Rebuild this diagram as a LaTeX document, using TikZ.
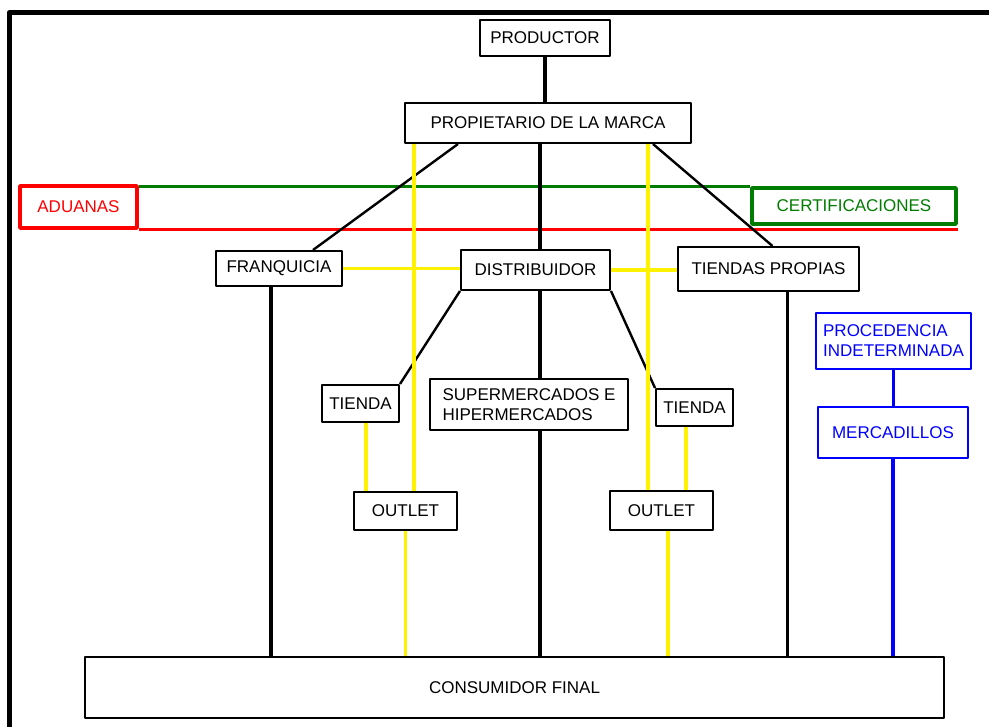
\documentclass[tikz,border=0pt]{standalone}
\usepackage{fontspec}
\setmainfont{Liberation Sans}
\definecolor{verde}{RGB}{0,125,0}
\begin{document}
\begin{tikzpicture}[x=1pt,y=-1pt,line join=round,font=\fontsize{17}{20}\selectfont,
	caja/.style={draw,line width=2pt,fill=white,inner sep=0pt,align=left},
	cajaazul/.style={caja,draw=blue,text=blue,line width=2.6pt},
	negra/.style={line width=3.4pt},
	diag/.style={line width=2.4pt},
	amarilla/.style={yellow,line width=3.4pt},
	azul/.style={blue,line width=3.4pt}]
	\useasboundingbox (0,0) rectangle (989,727);
	\def\xc{540}
	\draw[line width=5pt] (9,727)|-(989,13);
	\node[caja,draw=red,text=red,line width=3.4pt,minimum width=117,minimum height=42] (adu) at (78.5,207) {ADUANAS};
	\node[caja,draw=verde,text=verde,line width=3.4pt,minimum width=204,minimum height=36] (cert) at (854,206) {CERTIFICACIONES};
	\draw[verde,line width=3.4pt] (adu.east |- cert.north)--(cert.north west);
	\draw[red,line width=3.4pt] (adu.south east)--(adu.south -| cert.east);
	\node[caja,minimum width=130,minimum height=36] (prod) at (545,38) {PRODUCTOR};
	\node[caja,minimum width=286,minimum height=40] (prop) at (548,123) {PROPIETARIO DE LA MARCA};
	\node[caja,minimum width=126,minimum height=35] (fran) at (279,268.5) {FRANQUICIA};
	\node[caja,minimum width=149,minimum height=40] (dist) at (535.5,270) {DISTRIBUIDOR};
	\node[caja,minimum width=181,minimum height=44] (tp) at (768.5,269) {TIENDAS PROPIAS};
	\node[caja,minimum width=77,minimum height=37] (tiendaI) at (360.5,403.5) {TIENDA};
	\node[caja,minimum width=198,minimum height=51] (super) at (529,404.5) {SUPERMERCADOS E\\HIPERMERCADOS};
	\node[caja,minimum width=77,minimum height=37] (tiendaD) at (694.5,407.5) {TIENDA};
	\node[caja,minimum width=103,minimum height=38] (outI) at (405.5,511) {OUTLET};
	\node[caja,minimum width=103,minimum height=39] (outD) at (661.5,510.5) {OUTLET};
	\node[cajaazul,minimum width=155,minimum height=56] (proc) at (893.5,341) {PROCEDENCIA\\INDETERMINADA};
	\node[cajaazul,minimum width=150,minimum height=51] (merc) at (893,432.5) {MERCADILLOS};
	\node[caja,minimum width=859,minimum height=61] (cons) at (514.5,687.5) {CONSUMIDOR FINAL};
	\draw[negra] (prod.south)--(prod.south |- prop.north);
	\draw[diag] ([xshift=-90pt]prop.south)--([xshift=34pt]fran.north);
	\draw[diag] ([xshift=105pt]prop.south)--([xshift=4pt]tp.north);
	\draw[negra] (\xc,0 |- prop.south)--(\xc,0 |- dist.north) (\xc,0 |- dist.south)--(\xc,0 |- super.north) (\xc,0 |- super.south)--(\xc,0 |- cons.north);
	\draw[negra] ([xshift=-8pt]fran.south)--([xshift=-8pt]fran.south |- cons.north);
	\draw[negra] ([xshift=19pt]tp.south)--([xshift=19pt]tp.south |- cons.north);
	\draw[diag] (dist.south west)--(tiendaI.north east) (dist.south east)--(tiendaD.north west);
	\draw[amarilla] (fran.east)--(fran.east -| dist.west) (dist.east)--(dist.east -| tp.west);
	\draw[amarilla] (414,0 |- prop.south)--(414,0 |- outI.north) (648,0 |- prop.south)--(648,0 |- outD.north);
	\draw[amarilla] (366,0 |- tiendaI.south)--(366,0 |- outI.north) (686,0 |- tiendaD.south)--(686,0 |- outD.north);
	\draw[amarilla] (outI.south)--(outI.south |- cons.north) (668,0 |- outD.south)--(668,0 |- cons.north);
	\draw[azul] (proc.south)--(proc.south |- merc.north) (merc.south)--(merc.south |- cons.north);
\end{tikzpicture}
\end{document}
